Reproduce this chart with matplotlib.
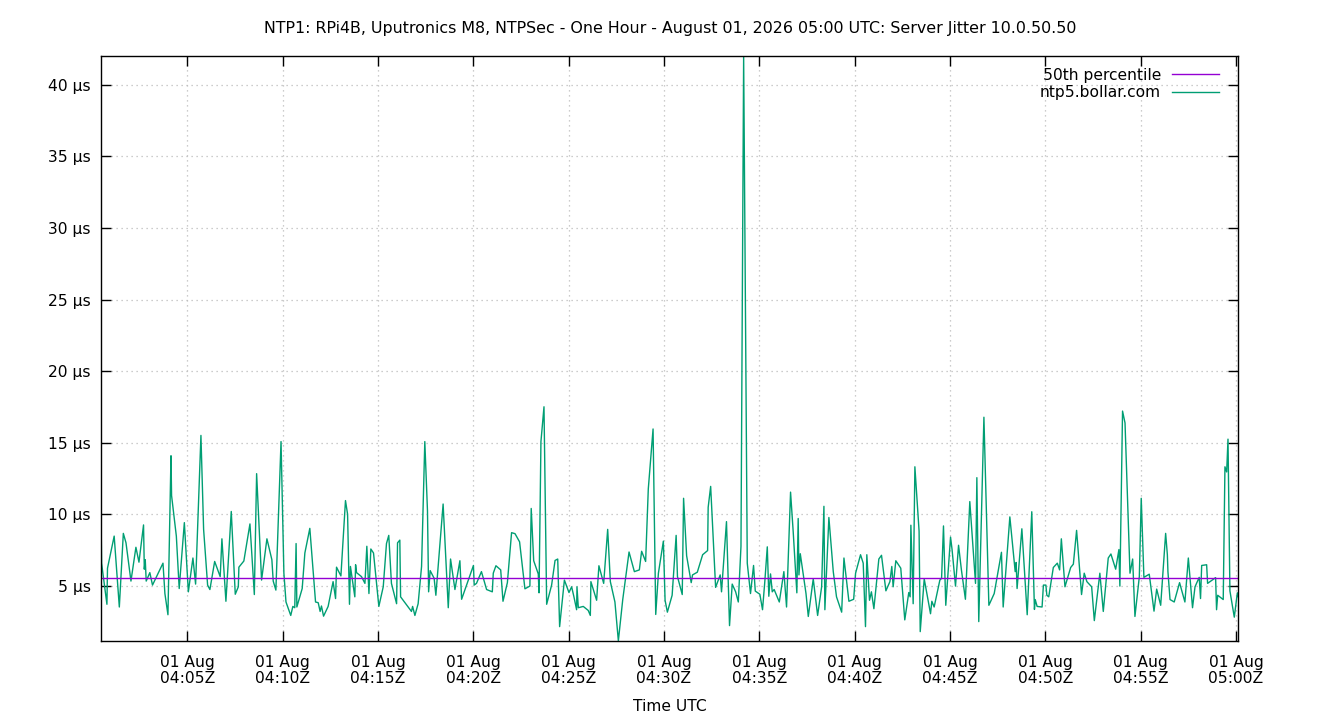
import datetime as dt
import matplotlib
matplotlib.use("Agg")
import matplotlib.pyplot as plt
import matplotlib.dates as mdates

# server jitter samples, minutes after 04:00 UTC and value in microseconds
minutes = [
    0.46, 0.51, 0.79, 0.82, 1.17, 1.44, 1.65, 1.79, 2.05, 2.31, 2.47, 2.71, 2.75, 2.80, 2.85,
    3.04, 3.18, 3.73, 3.83, 3.99, 4.15, 4.18, 4.43, 4.58, 4.85, 5.06, 5.30, 5.44, 5.72, 5.86,
    6.07, 6.19, 6.44, 6.73, 6.82, 7.03, 7.31, 7.52, 7.68, 7.71, 7.97, 8.29, 8.52, 8.64, 8.90,
    9.18, 9.44, 9.51, 9.65, 9.92, 10.07, 10.18,
    10.43, 10.54, 10.64, 10.71, 10.75, 11.03, 11.17, 11.43, 11.73, 11.87, 11.97, 12.04, 12.15,
    12.39, 12.65, 12.78, 12.83, 13.06, 13.30, 13.41, 13.51, 13.56, 13.79, 13.83, 13.88, 14.14,
    14.32, 14.42, 14.53, 14.63, 14.77, 15.05, 15.28, 15.45, 15.57, 15.71, 15.98, 16.03, 16.15,
    16.19, 16.76, 16.82, 16.94, 17.11, 17.29, 17.38, 17.46, 17.60, 17.66, 17.74, 17.95, 18.04,
    18.42, 18.69, 18.81, 19.04, 19.30, 19.39, 20.01, 20.05, 20.17,
    20.43, 20.70, 21.00, 21.05, 21.19, 21.44, 21.56, 21.79, 22.01, 22.19, 22.43, 22.71, 22.97,
    23.04, 23.17, 23.41, 23.45, 23.55, 23.71, 23.85, 24.11, 24.29, 24.43, 24.53, 24.78, 25.02,
    25.16, 25.28, 25.42, 25.44, 25.51, 25.77, 26.03, 26.14, 26.17, 26.47, 26.59, 26.84, 27.05,
    27.19, 27.43, 27.61, 27.84, 28.17, 28.45, 28.71, 28.83, 29.04, 29.18, 29.43, 29.57, 29.71,
    29.97, 30.06, 30.18,
    30.43, 30.64, 30.71, 30.96, 31.03, 31.19, 31.43, 31.50, 31.75, 32.03, 32.29, 32.32, 32.45,
    32.71, 32.95, 33.02, 33.28, 33.44, 33.58, 33.76, 33.90, 34.04, 34.18, 34.37, 34.54, 34.70,
    34.79, 35.03, 35.17, 35.29, 35.42, 35.50, 35.59, 35.68, 35.78, 36.05, 36.29, 36.43, 36.64,
    36.78, 36.97, 37.04, 37.08, 37.15, 37.45, 37.57, 37.83, 38.06, 38.27, 38.39, 38.44, 38.65,
    38.88, 39.05, 39.32, 39.44, 39.70, 39.95, 40.05, 40.31,
    40.45, 40.57, 40.64, 40.78, 40.88, 41.01, 41.27, 41.41, 41.64, 41.85, 41.95, 42.02, 42.16,
    42.42, 42.63, 42.84, 42.91, 42.95, 43.07, 43.16, 43.38, 43.44, 43.65, 43.98, 44.05, 44.17,
    44.47, 44.56, 44.66, 44.78, 45.03, 45.11, 45.29, 45.45, 45.60, 45.81, 46.04, 46.34, 46.41,
    46.51, 46.78, 47.04, 47.32, 47.70, 47.79, 48.14, 48.37, 48.42, 48.47, 48.52, 48.77, 49.05,
    49.29, 49.43, 49.47, 49.57, 49.83, 49.90, 50.03, 50.08, 50.18,
    50.42, 50.63, 50.75, 50.84, 51.03, 51.33, 51.47, 51.64, 51.90, 52.04, 52.18, 52.43, 52.57,
    52.86, 53.04, 53.30, 53.44, 53.69, 53.86, 53.91, 54.05, 54.18, 54.44, 54.58, 54.70, 54.93,
    55.03, 55.17, 55.45, 55.70, 55.84, 56.05, 56.31, 56.40, 56.43, 56.54, 56.76, 57.04, 57.32,
    57.50, 57.72, 57.85, 58.07, 58.14, 58.20, 58.46, 58.51, 58.93, 58.98, 59.04, 59.33, 59.42,
    59.51, 59.58, 59.68, 59.91, 60.07, 60.12,
]
jitter_us = [
    12.3, 6.6, 3.73, 6.25, 8.49, 3.54, 8.68, 8.02, 5.35, 7.71, 6.67, 9.27, 6.18, 6.84, 5.35,
    5.94, 5.07, 6.6, 4.48, 3.0, 14.1, 11.32, 8.49, 4.83, 9.43, 4.6, 6.96, 5.14, 15.52, 8.96,
    5.07, 4.76, 6.72, 5.66, 8.3, 3.94, 10.21, 4.43, 4.95, 6.32, 6.75, 9.34, 4.41, 12.85, 5.42,
    8.3, 6.84, 5.35, 4.72, 15.09, 5.9, 3.89,
    2.95, 3.58, 3.49, 7.97, 3.54, 4.83, 7.31, 9.03, 3.89, 3.84, 3.23, 3.61, 2.9,
    3.58, 5.31, 4.13, 6.32, 5.71, 10.97, 10.02, 3.73, 6.37, 4.25, 6.49, 5.94, 5.66,
    5.19, 7.78, 4.48, 7.59, 7.31, 3.58, 4.95, 7.97, 8.54, 5.19, 3.77, 8.02, 8.21,
    4.25, 3.23, 3.58, 2.95, 3.77, 6.37, 11.13, 15.09, 10.26, 4.6, 6.08, 5.54, 4.36,
    10.73, 3.49, 6.89, 4.76, 6.77, 4.08, 6.44, 5.07, 5.19,
    6.01, 4.76, 4.6, 5.9, 6.42, 6.13, 3.94, 5.24, 8.73, 8.66, 8.09, 4.81, 5.0,
    10.42, 6.77, 5.85, 4.53, 15.09, 17.52, 3.73, 5.07, 6.79, 6.89, 2.17, 5.42, 4.55,
    4.95, 4.25, 3.35, 4.95, 3.49, 3.58, 3.3, 2.95, 5.31, 4.01, 6.42, 5.19, 8.96,
    5.31, 3.89, 1.18, 4.06, 7.38, 6.01, 6.13, 7.43, 6.72, 11.79, 15.97, 3.02, 5.9,
    8.14, 4.01, 3.18,
    4.36, 8.54, 5.66, 4.41, 11.13, 7.12, 5.24, 5.78, 5.97, 7.19, 7.48, 10.5, 11.96,
    4.91, 5.78, 4.6, 9.5, 2.24, 5.14, 4.6, 3.89, 7.78, 42.0, 6.6, 4.48, 6.44,
    4.65, 4.43, 3.35, 5.31, 7.74, 4.29, 5.85, 4.6, 4.76, 3.89, 6.01, 3.54, 11.56,
    8.77, 4.53, 9.72, 5.78, 7.26, 4.48, 2.88, 5.5, 2.95, 4.95, 10.57, 3.35, 9.79,
    6.01, 4.25, 3.18, 6.96, 3.94, 4.08, 5.9, 7.19,
    6.6, 2.17, 7.19, 4.01, 4.6, 3.42, 6.89, 7.15, 4.67, 5.31, 6.37, 4.95, 6.77,
    6.25, 2.64, 4.55, 4.25, 9.25, 3.77, 13.33, 8.84, 1.82, 5.5, 3.07, 3.94, 3.54,
    5.42, 5.54, 9.2, 3.66, 8.42, 7.55, 5.0, 7.85, 6.13, 4.08, 10.9, 5.19, 12.57,
    2.52, 16.79, 3.66, 4.48, 7.36, 3.54, 9.83, 6.65, 6.01, 6.65, 4.83, 9.0, 3.0,
    10.19, 3.37, 4.06, 3.58, 3.54, 5.07, 5.07, 4.36, 4.25,
    6.3, 6.6, 6.13, 8.3, 4.95, 6.3, 6.53, 8.89, 4.41, 5.9, 5.31, 4.95, 2.59,
    5.9, 3.23, 6.96, 7.24, 6.18, 7.55, 5.0, 17.22, 16.39, 5.9, 6.89, 2.88, 5.66,
    11.13, 5.61, 5.83, 3.25, 4.79, 3.66, 8.68, 7.19, 6.01, 4.06, 3.89, 5.24, 3.89,
    6.96, 3.49, 4.95, 5.61, 4.13, 6.44, 6.49, 5.19, 5.59, 3.35, 4.36, 4.06, 13.33,
    12.97, 15.26, 4.67, 2.83, 4.53, 4.25,
]
p50_us = 5.54
ytick_vals = [5, 10, 15, 20, 25, 30, 35, 40]

title = ("NTP1: RPi4B, Uputronics M8, NTPSec - One Hour - August 01, 2026 05:00 UTC: "
         "Server Jitter 10.0.50.50")

start = dt.datetime(2026, 8, 1, 4, 0)
times = [start + dt.timedelta(minutes=m) for m in minutes]

plt.rcParams['font.family'] = ['DejaVu Sans']
plt.rcParams['font.size'] = 11.2

fig = plt.figure(figsize=(13.4, 7.2), dpi=100)
ax = fig.add_axes([0.0751, 0.110, 0.849, 0.812])

green, = ax.plot(times, jitter_us, color='#009E73', lw=1.0, label='ntp5.bollar.com')
purple = ax.axhline(p50_us, color='#9400D3', lw=1.0, label='50th percentile')

ax.set_xlim(times[0], times[-1])
ax.set_ylim(min(jitter_us), max(jitter_us))

ax.xaxis.set_major_locator(mdates.MinuteLocator(byminute=range(0, 60, 5)))
ax.xaxis.set_major_formatter(mdates.DateFormatter('%d %b\n%H:%MZ'))
ax.set_yticks(ytick_vals)
ax.set_yticklabels([f"{v:g} µs" for v in ytick_vals])

ax.tick_params(direction='in', length=7, width=1, top=True, right=True,
               labelsize=11.2, color='black')
ax.tick_params(axis='x', pad=10)
ax.tick_params(axis='y', pad=7)
for lab in ax.get_xticklabels():
    lab.set_linespacing(1.15)

ax.grid(True, color='#bcbcbc', linestyle=(0, (1, 3)), lw=0.9)
for s in ax.spines.values():
    s.set_linewidth(1.0)

ax.set_xlabel('Time UTC', labelpad=9)
fig.text(0.5, 1 - 28 / 720, title, ha='center', va='center', fontsize=11.4)

ax.legend(handles=[purple, green], loc='upper right', frameon=False, markerfirst=False,
          handlelength=3.0, handletextpad=0.7, labelspacing=0.15,
          bbox_to_anchor=(0.993, 1.0), borderaxespad=0.35)

fig.savefig('out.png', dpi=100)
